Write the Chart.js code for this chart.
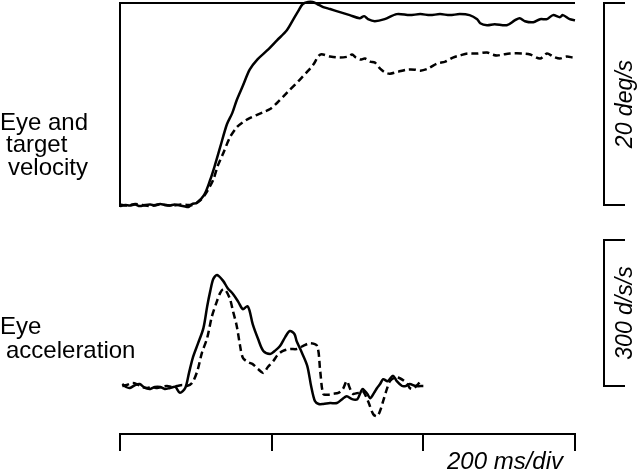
<!DOCTYPE html>
<html>
<head>
<meta charset="utf-8">
<script src="https://cdn.jsdelivr.net/npm/chart.js@4"></script>
<style>
  html, body { margin: 0; padding: 0; background: #fff; }
  #wrap { width: 640px; height: 471px; position: relative; }
</style>
</head>
<body>
<div id="wrap"><canvas id="traces"></canvas></div>
<script>
// time in ms, velocity in deg/s (top panel)
const velTimeSolid = [0,7,13,20,26,33,40,46,53,59,66,72,79,86,90,95,101,111,119,125,132,141,148,154,162,171,181,194,207,220,228,235,241,248,254,260,268,277,290,303,316,322,327,336,349,365,382,396,409,422,435,448,461,471,475,484,494,510,521,527,534,545,554,563,571,580,584,593,600];
const velSolid = [-0.1,0,-0.05,0.05,-0.1,0,0.05,-0.05,0.1,0,-0.05,0.05,-0.05,-0.15,-0.2,0.1,0.2,1.0,2.5,3.9,5.7,8.0,9.1,10.4,11.8,13.4,14.4,15.3,16.3,17.3,18.3,19.2,19.9,20.1,20.1,19.9,19.6,19.4,19.1,18.8,18.5,18.7,18.4,18.2,18.4,18.9,18.8,18.9,18.8,18.9,18.8,18.9,18.8,18.4,18.0,17.8,17.9,17.8,18.3,18.5,18.2,18.1,18.4,18.4,18.8,18.6,18.8,18.4,18.3];
const velTimeDashed = [0,10,20,30,40,50,60,70,80,90,96,103,110,116,123,129,136,145,154,162,171,189,198,207,220,237,247,255,264,277,290,301,306,311,317,323,330,336,343,350,356,367,379,389,396,406,418,429,439,448,458,471,484,491,497,505,514,532,541,554,563,571,580,589,597];
const velDashed = [0.05,-0.05,0.1,0,-0.1,0.05,0,-0.05,0.05,0,0,0.3,0.8,1.5,2.5,3.9,5.1,6.7,7.7,8.2,8.6,9.2,9.5,10.1,11.1,12.4,13.2,13.9,14.9,14.7,14.6,14.7,14.9,14.6,14.4,14.5,14.2,14.1,13.5,13.1,13.0,13.2,13.4,13.4,13.3,13.5,14.0,14.2,14.6,14.8,15.0,15.0,15.1,14.9,14.8,14.9,15.0,15.0,14.9,14.5,15.0,14.7,14.5,14.7,14.6];

// time in ms, acceleration in deg/s/s (bottom panel)
const accTimeSolid = [3,8,13,20,26,33,40,46,53,59,66,73,79,86,91,96,103,110,115,119,123,128,136,142,149,156,162,168,171,175,182,189,198,204,211,218,224,230,233,240,247,252,257,262,268,277,286,293,299,306,313,317,320,326,330,335,339,343,347,353,360,365,372,377,382,390,400];
const accSolid = [4,-2,-4,2,4,-4,-6,-2,-2,-6,-4,-2,-14,-4,27,58,88,119,164,195,220,228,216,201,189,173,158,164,154,127,97,72,66,72,82,101,113,107,92,68,41,0,-31,-37,-37,-35,-35,-27,-21,-27,-27,-14,-6,-16,-25,-14,-4,4,14,10,21,10,0,0,4,0,0];
const accTimeDashed = [3,9,16,22,29,36,42,49,55,62,69,75,82,88,95,102,108,115,121,128,132,136,140,145,149,154,158,162,169,175,182,189,195,202,208,215,224,233,241,251,260,264,268,274,281,288,294,299,303,307,314,320,327,334,339,343,347,352,356,363,369,375,379,382,386,392,398];
const accDashed = [0,2,6,4,-2,-4,-2,-4,-2,0,-2,0,2,0,6,31,68,99,142,175,191,199,195,179,154,123,86,58,49,45,35,27,39,51,64,72,76,76,82,88,82,31,-16,-18,-16,-14,-6,10,-4,-16,-14,-10,-31,-58,-62,-51,-31,-6,10,18,16,10,4,-4,-6,2,14];

// scale bars and time ticks
const timeTicks = [0, 200, 400, 600];
const velBar = [0, 20];
const accBar = [0, 300];
const velBarLabel = '20 deg/s';
const accBarLabel = '300 d/s/s';
const timeLabel = '200 ms/div';

const FONT = "'Liberation Sans', Arial, Helvetica, sans-serif";

function pairs(ts, vs) {
    return ts.map((t, i) => ({x: t, y: vs[i]}));
}

const decorations = {
    id: 'decorations',
    afterDraw(chart) {
        const ctx = chart.ctx;
        const xs = chart.scales.x, yv = chart.scales.yVel, ya = chart.scales.yAcc;
        const left = xs.getPixelForValue(timeTicks[0]);
        const right = xs.getPixelForValue(timeTicks[timeTicks.length - 1]);
        ctx.save();
        ctx.strokeStyle = '#000';
        ctx.lineWidth = 2;

        // frame of the velocity panel
        ctx.beginPath();
        ctx.moveTo(left, yv.getPixelForValue(-0.2));
        ctx.lineTo(left, yv.getPixelForValue(velBar[1]));
        ctx.lineTo(right, yv.getPixelForValue(velBar[1]));
        ctx.stroke();

        // calibration bars on the right
        const barX = right + 29, tickX = right + 50;
        function bar(y0, y1) {
            ctx.beginPath();
            ctx.moveTo(tickX, y0);
            ctx.lineTo(barX, y0);
            ctx.lineTo(barX, y1);
            ctx.lineTo(tickX, y1);
            ctx.stroke();
        }
        const v0 = yv.getPixelForValue(velBar[0]), v1 = yv.getPixelForValue(velBar[1]);
        const a0 = ya.getPixelForValue(accBar[0]), a1 = ya.getPixelForValue(accBar[1]);
        bar(v0, v1);
        bar(a0, a1);

        ctx.fillStyle = '#000';
        ctx.textBaseline = 'alphabetic';

        function vertical(text, cy) {
            ctx.save();
            ctx.translate(barX + 28, cy);
            ctx.rotate(-Math.PI / 2);
            ctx.textAlign = 'center';
            ctx.font = 'italic 23px ' + FONT;
            ctx.fillText(text, 0, 0);
            ctx.restore();
        }
        vertical(velBarLabel, (v0 + v1) / 2);
        vertical(accBarLabel, (a0 + a1) / 2);

        ctx.font = 'italic 24px ' + FONT;
        ctx.textAlign = 'right';
        ctx.fillText(timeLabel, right - 12, 469);

        ctx.font = '24px ' + FONT;
        ctx.textAlign = 'left';
        ctx.fillText('Eye and', 0, 130);
        ctx.fillText('target', 6, 152);
        ctx.fillText('velocity', 8, 175);
        ctx.fillText('Eye', 0, 334);
        ctx.fillText('acceleration', 6, 358);
        ctx.restore();
    }
};

const lineStyle = {borderColor: '#000', borderWidth: 2.5, pointRadius: 0, tension: 0.3, clip: false, fill: false};

new Chart(document.getElementById('traces'), {
    type: 'line',
    data: {
        datasets: [
            Object.assign({label: 'Velocity (solid)', data: pairs(velTimeSolid, velSolid), yAxisID: 'yVel'}, lineStyle),
            Object.assign({label: 'Velocity (dashed)', data: pairs(velTimeDashed, velDashed), yAxisID: 'yVel', borderDash: [7, 4]}, lineStyle),
            Object.assign({label: 'Acceleration (solid)', data: pairs(accTimeSolid, accSolid), yAxisID: 'yAcc'}, lineStyle),
            Object.assign({label: 'Acceleration (dashed)', data: pairs(accTimeDashed, accDashed), yAxisID: 'yAcc', borderDash: [7, 4]}, lineStyle)
        ]
    },
    options: {
        responsive: true,
        maintainAspectRatio: false,
        animation: false,
        layout: {padding: {left: 120, right: 65, top: 3, bottom: 20}},
        plugins: {legend: {display: false}, tooltip: {enabled: false}},
        scales: {
            x: {
                type: 'linear',
                position: 'bottom',
                min: timeTicks[0],
                max: timeTicks[timeTicks.length - 1],
                afterBuildTicks: axis => { axis.ticks = timeTicks.map(v => ({value: v})); },
                ticks: {display: false},
                grid: {drawOnChartArea: false, drawTicks: true, tickLength: 17, color: '#000', lineWidth: 2},
                border: {display: true, color: '#000', width: 2}
            },
            yVel: {type: 'linear', display: false, min: -22.67, max: 20},
            yAcc: {type: 'linear', display: false, min: -98.6, max: 787}
        }
    },
    plugins: [decorations]
});
</script>
</body>
</html>
